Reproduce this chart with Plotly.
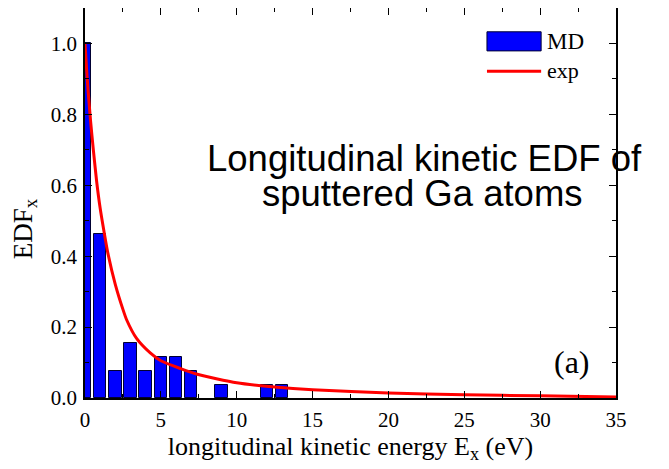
import plotly.graph_objects as go

# MD histogram (bin centers in eV, normalized EDF)
md_energy = [0, 1, 2, 3, 4, 5, 6, 7, 9, 12, 13]
md_edf = [1.0, 0.462, 0.077, 0.154, 0.077, 0.115, 0.115, 0.077, 0.038, 0.038, 0.038]

# exponential-fit curve, points
exp_energy = [0, 0.1, 0.2, 0.37, 0.55, 0.77, 1.0, 1.25, 1.5, 2.0, 2.5, 2.75, 3.4, 4.3, 5.0,
              6.3, 7.4, 10, 12.5, 15, 20, 25, 30, 35]
exp_edf = [1.0, 0.93, 0.87, 0.78, 0.70, 0.61, 0.535, 0.47, 0.41, 0.32, 0.25, 0.22, 0.168, 0.127, 0.105,
           0.083, 0.067, 0.043, 0.031, 0.023, 0.014, 0.009, 0.006, 0.003]

x_ticks = [0, 5, 10, 15, 20, 25, 30, 35]
y_ticks = [0.0, 0.2, 0.4, 0.6, 0.8, 1.0]

serif = "Liberation Serif, Times New Roman, serif"
sans = "Liberation Sans, Arial, sans-serif"

fig = go.Figure()
fig.add_trace(go.Bar(x=md_energy, y=md_edf, width=0.82, name="MD", showlegend=False,
                     marker=dict(color="#0000FF", line=dict(color="#000033", width=1))))
fig.add_trace(go.Scatter(x=exp_energy, y=exp_edf, mode="lines", name="exp", showlegend=False,
                         line=dict(color="#FF0000", width=3, shape="spline", smoothing=0.6)))

axis_common = dict(showline=True, linecolor="black", linewidth=1.5, mirror="allticks",
                   ticks="inside", ticklen=7, tickwidth=1, tickcolor="black",
                   showgrid=False, zeroline=False, automargin=False,
                   tickfont=dict(family=serif, size=21, color="black"))

fig.update_xaxes(range=[0, 35], tickvals=x_ticks, ticktext=[str(v) for v in x_ticks],
                 minor=dict(ticks="inside", ticklen=4, dtick=2.5, tickcolor="black"),
                 ticklabelstandoff=2,
                 title=dict(text="longitudinal kinetic energy E<sub>x</sub> (eV)",
                            font=dict(family=serif, size=26, color="black"), standoff=5),
                 **axis_common)
fig.update_yaxes(range=[0, 1.1], tickvals=y_ticks, ticktext=[f"{v:.1f}" for v in y_ticks],
                 minor=dict(ticks="inside", ticklen=4, dtick=0.1, tickcolor="black"),
                 ticklabelstandoff=2,
                 **axis_common)

# y-axis title (placed as annotation to match its offset position)
fig.add_annotation(x=-0.113, y=0.435, xref="paper", yref="paper", xanchor="center", yanchor="middle",
                   text="EDF<sub>x</sub>", textangle=-90, showarrow=False,
                   font=dict(family=serif, size=27, color="black"))

# inline title text
fig.add_annotation(x=0.640, y=0.613, xref="paper", yref="paper", xanchor="center", yanchor="middle",
                   text="Longitudinal kinetic EDF of", showarrow=False,
                   font=dict(family=sans, size=36.5, color="black"))
fig.add_annotation(x=0.636, y=0.525, xref="paper", yref="paper", xanchor="center", yanchor="middle",
                   text="sputtered Ga atoms", showarrow=False,
                   font=dict(family=sans, size=36.5, color="black"))

fig.add_annotation(x=0.955, y=0.093, xref="paper", yref="paper", xanchor="right", yanchor="middle",
                   text="(a)", showarrow=False,
                   font=dict(family=serif, size=32, color="black"))

# legend drawn manually (wide swatch like the reference)
fig.add_shape(type="rect", xref="paper", yref="paper", x0=0.757, x1=0.859, y0=0.890, y1=0.939,
              fillcolor="#0000FF", line=dict(color="#000033", width=1))
fig.add_shape(type="line", xref="paper", yref="paper", x0=0.757, x1=0.859, y0=0.838, y1=0.838,
              line=dict(color="#FF0000", width=3))
fig.add_annotation(x=0.866, y=0.913, xref="paper", yref="paper", xanchor="left", yanchor="middle",
                   text="MD", showarrow=False, font=dict(family=serif, size=23, color="black"))
fig.add_annotation(x=0.866, y=0.840, xref="paper", yref="paper", xanchor="left", yanchor="middle",
                   text="exp", showarrow=False, font=dict(family=serif, size=22, color="black"))

# the page body adds an 8px offset, so the figure is sized to fit the 669x469 window
fig.update_layout(
    width=661, height=461,
    margin=dict(l=77, r=53, t=0, b=71),
    plot_bgcolor="white", paper_bgcolor="white",
    bargap=0,
    showlegend=False,
)

fig.write_html("out.html")
